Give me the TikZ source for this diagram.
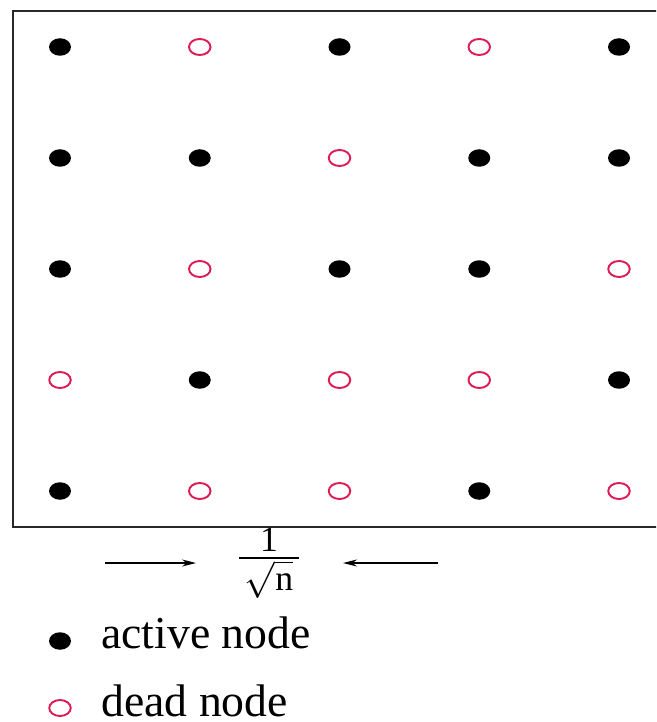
\documentclass[tikz,border=0pt]{standalone}
\usepackage{amsmath}
\usepackage{fontspec}
\setmainfont{Liberation Serif}
\usepackage{xcolor}
\usepackage{tikz}
\usetikzlibrary{shapes.geometric, positioning, arrows.meta}
\definecolor{DeadRed}{RGB}{222,28,84}
\definecolor{BoxGray}{RGB}{40,40,40}

\begin{document}
\begin{tikzpicture}[x=0.02cm, y=-0.02cm,
          active/.style={ellipse, fill=black, inner sep=0pt,
                         minimum width=0.44cm, minimum height=0.35cm},
          dead/.style={ellipse, draw=DeadRed, line width=1.1pt, inner sep=0pt,
                       minimum width=0.43cm, minimum height=0.32cm},
          lbl/.style={font=\fontsize{26}{31}\selectfont, inner sep=0pt},
          arr/.style={-{Stealth[length=2.8mm, width=1.4mm]}, line width=0.8pt}
        ]
        \useasboundingbox (0,0) rectangle (656,722);
        \clip (0,0) rectangle (656,722);

        % field (right side runs past the page)
        \draw[BoxGray, line width=1.4pt] (13,11) rectangle (690,527);

        % grid of sensors, row by row: 1 = active, 0 = dead
        \foreach \row [count=\r] in {{1,0,1,0,1}, {1,1,0,1,1}, {1,0,1,1,0},
                                     {0,1,0,0,1}, {1,0,0,1,0}} {
          \foreach \s [count=\c] in \row {
            \pgfmathsetmacro{\px}{60 + (\c-1)*139.75}
            \pgfmathsetmacro{\py}{47 + (\r-1)*111}
            \ifnum\s=1
              \node[active] (s-\r-\c) at (\px,\py) {};
            \else
              \node[dead] (s-\r-\c) at (\px,\py) {};
            \fi
          }
        }

        % spacing
        \node[inner sep=0pt, font=\fontsize{29}{34}\selectfont] (gap) at (269,563)
              {$\frac{\,\text{1}\,}{\,\sqrt{\text{n}}\,}$};
        \coordinate (la) at (105,563);
        \coordinate (lb) at (196,563);
        \coordinate (ra) at (438,563);
        \coordinate (rb) at (343,563);
        \draw[arr] (la) -- (lb);
        \draw[arr] (ra) -- (rb);

        % legend
        \node[active] (keyact) at (60,641) {};
        \node[lbl, anchor=base west] (txtact) at (101,648) {active node};
        \node[dead] (keydead) at (60,708) {};
        \node[lbl, anchor=base west] (txtdead) at (101,716) {dead node};
      \end{tikzpicture}
\end{document}
